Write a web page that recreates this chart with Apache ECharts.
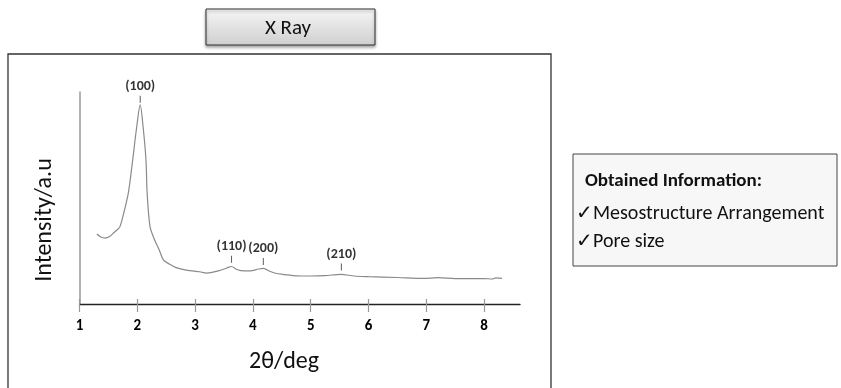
<!DOCTYPE html>
<html>
<head>
<meta charset="utf-8">
<script src="https://cdn.jsdelivr.net/npm/echarts@6/dist/echarts.min.js"></script>
<style>
  html, body { margin: 0; padding: 0; background: #fff; }
  #chart { width: 841px; height: 388px; }
</style>
</head>
<body>
<div id="chart"></div>
<script>
// diffraction pattern, 2theta (deg) vs intensity (a.u., 0-100 scale)
var twoTheta = [1.30, 1.37, 1.44, 1.52, 1.58, 1.65, 1.70, 1.77, 1.845, 1.92, 1.99, 2.05,
  2.10, 2.15, 2.17, 2.22, 2.30, 2.38, 2.45, 2.55, 2.66, 2.85, 3.08, 3.20, 3.40, 3.55,
  3.63, 3.72, 3.85, 3.95, 4.10, 4.18, 4.30, 4.39, 4.55, 4.75, 5.00, 5.25, 5.52, 5.75,
  6.00, 6.50, 6.95, 7.20, 7.50, 8.00, 8.14, 8.20, 8.31];
var intensity = [33.0, 31.6, 31.1, 31.8, 33.3, 34.9, 36.5, 43.4, 52.4, 67.9, 83.6, 93.9,
  83.6, 67.9, 52.4, 36.5, 30.2, 25.5, 20.8, 18.9, 17.3, 16.0, 15.2, 14.6, 15.6, 17.0,
  17.7, 16.3, 15.6, 15.6, 16.5, 16.8, 15.3, 14.5, 13.9, 13.3, 13.2, 13.4, 14.0, 13.2,
  12.9, 12.5, 12.1, 12.4, 12.0, 12.0, 11.8, 12.3, 12.1];

// reflection markers
var peakNames = ['(100)', '(110)', '(200)', '(210)'];
var peakTheta = [2.05, 3.63, 4.18, 5.53];
var peakLevel = [96.6, 21.1, 20.1, 17.5];

var xTicks = [1, 2, 3, 4, 5, 6, 7, 8];
var infoLines = ['Obtained Information:', '\u2713Mesostructure Arrangement', '\u2713Pore size'];

var FONT = 'Carlito, Lato, sans-serif';

var curve = twoTheta.map(function (t, i) { return [t, intensity[i]]; });
var peaks = peakNames.map(function (n, i) { return { value: [peakTheta[i], peakLevel[i]], name: n }; });

var chart = echarts.init(document.getElementById('chart'), null, { renderer: 'canvas' });

var option = {
  animation: false,
  backgroundColor: '#fff',
  grid: { left: 79.5, top: 92, right: 321, bottom: 84 },
  xAxis: [{
    type: 'value', min: 1, max: 8.62,
    axisLine: { lineStyle: { color: '#222', width: 1.3 } },
    axisTick: { show: true, length: 8, lineStyle: { color: '#999', width: 1.2 }, customValues: xTicks },
    axisLabel: { customValues: xTicks, fontFamily: FONT, fontWeight: 900, fontSize: 15, color: '#000', margin: 15 },
    splitLine: { show: false }
  }, {
    // inner half of the crossing tick marks
    type: 'value', min: 1, max: 8.62, position: 'bottom',
    axisLine: { show: false },
    axisTick: { show: true, inside: true, length: 5, lineStyle: { color: '#999', width: 1.2 }, customValues: xTicks },
    axisLabel: { show: false },
    splitLine: { show: false }
  }],
  yAxis: {
    type: 'value', min: 0, max: 100,
    axisLine: { show: true, lineStyle: { color: '#999', width: 1.5 } },
    axisTick: { show: false },
    axisLabel: { show: false },
    splitLine: { show: false }
  },
  series: [{
    type: 'line', data: curve, showSymbol: false, smooth: 0.3,
    lineStyle: { color: '#8a8a8a', width: 1.2 },
    z: 2
  }, {
    type: 'scatter', data: peaks,
    symbol: 'rect', symbolSize: [1, 7],
    itemStyle: { color: '#333' },
    label: {
      show: true, position: 'top', distance: 2,
      formatter: function (p) { return p.name; },
      fontFamily: FONT, fontWeight: 900, fontSize: 14, color: '#000'
    },
    z: 3
  }],
  graphic: [
    { type: 'rect', shape: { x: 8, y: 54, width: 543, height: 360 }, style: { fill: 'none', stroke: '#333', lineWidth: 1.3 }, z: -1 },
    {
      type: 'rect', shape: { x: 206, y: 9, width: 169, height: 36 },
      style: {
        fill: new echarts.graphic.LinearGradient(0, 0, 0, 1, [
          { offset: 0, color: '#f6f6f6' }, { offset: 1, color: '#cfcfcf' }]),
        stroke: '#333', lineWidth: 1,
        shadowBlur: 3, shadowOffsetY: 2, shadowColor: 'rgba(0,0,0,0.35)'
      }
    },
    { type: 'text', x: 288, y: 29, style: { text: 'X Ray', fontFamily: FONT, fontSize: 21, fill: '#111', align: 'center', verticalAlign: 'middle' } },
    { type: 'text', x: 45, y: 220, rotation: Math.PI / 2, style: { text: 'Intensity/a.u', fontFamily: FONT, fontSize: 24, fill: '#111', align: 'center', verticalAlign: 'middle' } },
    { type: 'text', x: 284, y: 362, style: { text: '2\u03b8/deg', fontFamily: FONT, fontSize: 24, fill: '#111', align: 'center', verticalAlign: 'middle' } },
    { type: 'rect', shape: { x: 573, y: 154, width: 264, height: 112 }, style: { fill: '#f7f7f7', stroke: '#444', lineWidth: 1 } },
    { type: 'text', x: 585, y: 181, style: { text: infoLines[0], fontFamily: FONT, fontWeight: 700, fontSize: 19, fill: '#111', verticalAlign: 'middle' } },
    { type: 'text', x: 576, y: 214, style: { text: infoLines[1], fontFamily: FONT, fontSize: 20, fill: '#111', verticalAlign: 'middle' } },
    { type: 'text', x: 576, y: 242, style: { text: infoLines[2], fontFamily: FONT, fontSize: 20, fill: '#111', verticalAlign: 'middle' } }
  ]
};

chart.setOption(option);
</script>
</body>
</html>
